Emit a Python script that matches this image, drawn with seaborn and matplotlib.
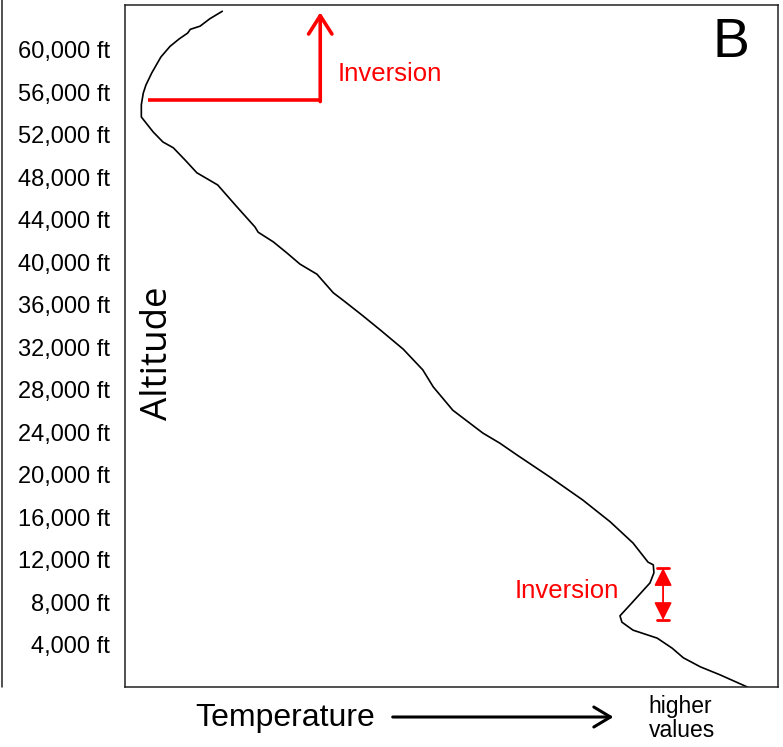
import numpy as np
import pandas as pd
import matplotlib
matplotlib.use('Agg')
import matplotlib.pyplot as plt
import seaborn as sns

# temperature profile (relative temperature 0-100, altitude in ft)
temp = [14.9, 13.0, 11.5, 10.0, 9.6, 8.3, 6.9, 5.5, 4.1, 3.2, 2.8, 2.5, 2.5, 4.3, 5.8,
        7.4, 9.2, 11.0, 14.2, 17.2, 19.9, 20.4, 22.7, 24.8, 26.8, 29.4, 31.9, 33.4, 36.3,
        39.1, 42.6, 45.6, 47.2, 50.2, 54.8, 57.4, 60.0, 65.1, 70.1, 74.3, 77.8, 80.1,
        80.9, 81.0, 80.4, 77.3, 75.8, 76.1, 77.8, 81.5, 83.8, 85.5, 88.1, 91.1, 95.3]
altitude = [63600, 62900, 62200, 61900, 61550, 61000, 60300, 59300, 57800, 56650, 55900,
            54800, 53650, 52250, 51300, 50750, 49600, 48400, 47250, 45150, 43300, 42800,
            41900, 40850, 39800, 38850, 37100, 36400, 35000, 33600, 31800, 29850, 28250,
            26050, 23900, 22950, 21850, 19750, 17600, 15550, 13550, 11750, 11500, 10750,
            9800, 7700, 6700, 6100, 5350, 4600, 3650, 2750, 1900, 1150, 0]

yticks = list(range(4000, 64000, 4000))
ytick_labels = [f'{v:,} ft' for v in yticks]

# inversion markers
top_inv_x = [3.5, 29.9]
top_inv_y = 55250
top_inv_tip = 63500
low_inv_x = 82.4
low_inv_y = [11200, 6300]

profile = pd.DataFrame({'Temperature': temp, 'Altitude': altitude})

sns.set_theme(style='white')
plt.rcParams['font.family'] = ['Liberation Sans', 'DejaVu Sans']
plt.rcParams['text.color'] = 'black'
plt.rcParams['ytick.color'] = 'black'

fig = plt.figure(figsize=(7.83, 7.47), dpi=100)
ax = fig.add_axes([125/783, 60/747, 653/783, 682/747])

sns.lineplot(data=profile, x='Temperature', y='Altitude', sort=False, estimator=None,
             color='black', linewidth=1.2, ax=ax)

ax.set_xlim(0, 100)
ax.set_ylim(0, 64190)
ax.set_xticks([])
ax.set_yticks(yticks)
ax.set_yticklabels(ytick_labels, fontsize=17, color='black')
ax.tick_params(axis='y', length=0, pad=11)
ax.set_xlabel('')
ax.set_ylabel('')
for s in ax.spines.values():
    s.set_color('#222222')
    s.set_linewidth(1.1)

# upper inversion: horizontal bar + upward arrow
ax.plot(top_inv_x, [top_inv_y, top_inv_y], color='red', lw=2.6, solid_capstyle='butt')
ax.annotate('', xy=(top_inv_x[1], top_inv_tip), xytext=(top_inv_x[1], top_inv_y - 150),
            arrowprops=dict(arrowstyle='->, head_length=1.1, head_width=0.7',
                            color='red', lw=2.6, shrinkA=0, shrinkB=0))
ax.text(32.6, 57700, 'Inversion', color='red', fontsize=18.5, va='center', ha='left')

# lower inversion: double arrow with caps
ax.annotate('', xy=(low_inv_x, low_inv_y[0]), xytext=(low_inv_x, low_inv_y[1]),
            arrowprops=dict(arrowstyle='<|-|>, head_length=0.9, head_width=0.45',
                            color='red', lw=1.3, shrinkA=0, shrinkB=0))
for yv in low_inv_y:
    ax.plot([low_inv_x - 0.9, low_inv_x + 0.9], [yv, yv], color='red', lw=2)
ax.text(59.7, 9050, 'Inversion', color='red', fontsize=18.5, va='center', ha='left')

ax.text(0.928, 0.945, 'B', transform=ax.transAxes, fontsize=40, ha='center', va='center',
        color='black')
ax.text(0.05, 0.49, 'Altitude', transform=ax.transAxes, fontsize=26.5, rotation=90,
        ha='center', va='center', color='black', family=['Open Sans', 'DejaVu Sans'])

# x-axis annotation below the box
ax.text(0.245, -0.046, 'Temperature', transform=ax.transAxes, fontsize=23,
        ha='center', va='center', color='black')
ax.annotate('', xy=(0.748, -0.044), xytext=(0.41, -0.044), xycoords='axes fraction',
            textcoords='axes fraction',
            arrowprops=dict(arrowstyle='->, head_length=1.0, head_width=0.6',
                            color='black', lw=2.2, shrinkA=0, shrinkB=0))
ax.text(0.802, -0.046, 'higher\nvalues', transform=ax.transAxes, fontsize=16.5,
        ha='left', va='center', linespacing=1.05, color='black')

# frame line of the neighbouring panel on the left
fig.add_artist(plt.Line2D([0.0025, 0.0025], [60/747, 1.0], color='#222222', lw=1.1,
                          transform=fig.transFigure))

plt.savefig('out.png', dpi=100)
